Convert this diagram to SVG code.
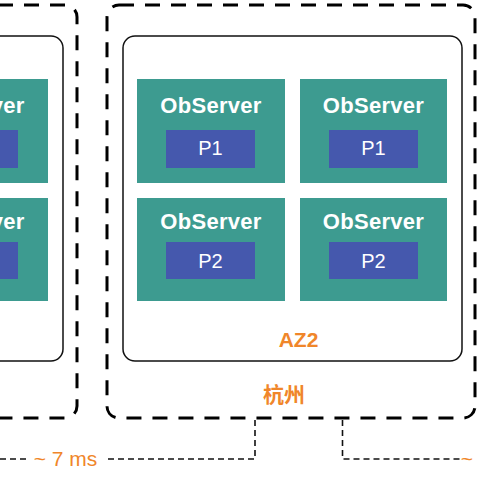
<svg xmlns="http://www.w3.org/2000/svg" width="480" height="480" viewBox="0 0 480 480">
<style>
.zone{fill:none;stroke:#000;stroke-width:3;stroke-dasharray:15 11}
.az{fill:#fff;stroke:#111;stroke-width:1.5}
.srv{fill:#3d9b90}
.part{fill:#4558ad}
.t1{font-family:"Liberation Sans",Arial,sans-serif;font-weight:bold;font-size:22px;fill:#fff;text-anchor:middle;letter-spacing:0.3px}
.t2{font-family:"Liberation Sans",Arial,sans-serif;font-size:20px;fill:#fff;text-anchor:middle}
.or{font-family:"Liberation Sans","Noto Sans CJK SC",sans-serif;fill:#f0862a;text-anchor:middle}
.link{fill:none;stroke:#111;stroke-width:1.6;stroke-dasharray:6 4}
</style>
<rect width="480" height="480" fill="#fff"/>
<g id="zone-left">
<rect class="zone" x="-300" y="5" width="377" height="413" rx="12"/>
<rect class="az" x="-280" y="36" width="343" height="325" rx="12"/>
<rect class="srv" x="-100" y="79" width="148" height="104"/>
<rect class="part" x="-71" y="130" width="89" height="38"/>
<text class="t1" x="-26" y="113">ObServer</text>
<rect class="srv" x="-100" y="198" width="148" height="103"/>
<rect class="part" x="-71" y="242" width="89" height="37"/>
<text class="t1" x="-26" y="229">ObServer</text>
</g>
<g id="zone-hangzhou">
<rect class="zone" x="107" y="5" width="368" height="413" rx="12"/>
<text class="or" x="284" y="402" font-size="21" font-weight="600">杭州</text>
</g>
<g id="az2">
<rect class="az" x="123" y="36" width="339" height="325" rx="12"/>
<text class="or" x="298.5" y="347" font-size="21" font-weight="bold">AZ2</text>
</g>
<g id="obs-1">
<rect class="srv" x="137" y="79" width="148" height="104"/>
<text class="t1" x="211" y="113">ObServer</text>
<rect class="part" x="166" y="130" width="89" height="38"/>
<text class="t2" x="210.5" y="155">P1</text>
</g>
<g id="obs-2">
<rect class="srv" x="300" y="79" width="147" height="104"/>
<text class="t1" x="373.5" y="113">ObServer</text>
<rect class="part" x="329" y="130" width="89" height="38"/>
<text class="t2" x="373.5" y="155">P1</text>
</g>
<g id="obs-3">
<rect class="srv" x="137" y="198" width="148" height="103"/>
<text class="t1" x="211" y="229">ObServer</text>
<rect class="part" x="166" y="242" width="89" height="37"/>
<text class="t2" x="210.5" y="268">P2</text>
</g>
<g id="obs-4">
<rect class="srv" x="300" y="198" width="147" height="103"/>
<text class="t1" x="373.5" y="229">ObServer</text>
<rect class="part" x="329" y="242" width="89" height="37"/>
<text class="t2" x="373.5" y="268">P2</text>
</g>
<g id="connectors">
<path class="link" d="M255 420 V459 H108"/>
<path class="link" d="M26 459 H0"/>
<path class="link" d="M342.5 420 V459 H462"/>
<text class="or" x="65.5" y="466" font-size="21">~ 7 ms</text>
<text class="or" x="467" y="466" font-size="21" text-anchor="start">~</text>
</g>
</svg>
